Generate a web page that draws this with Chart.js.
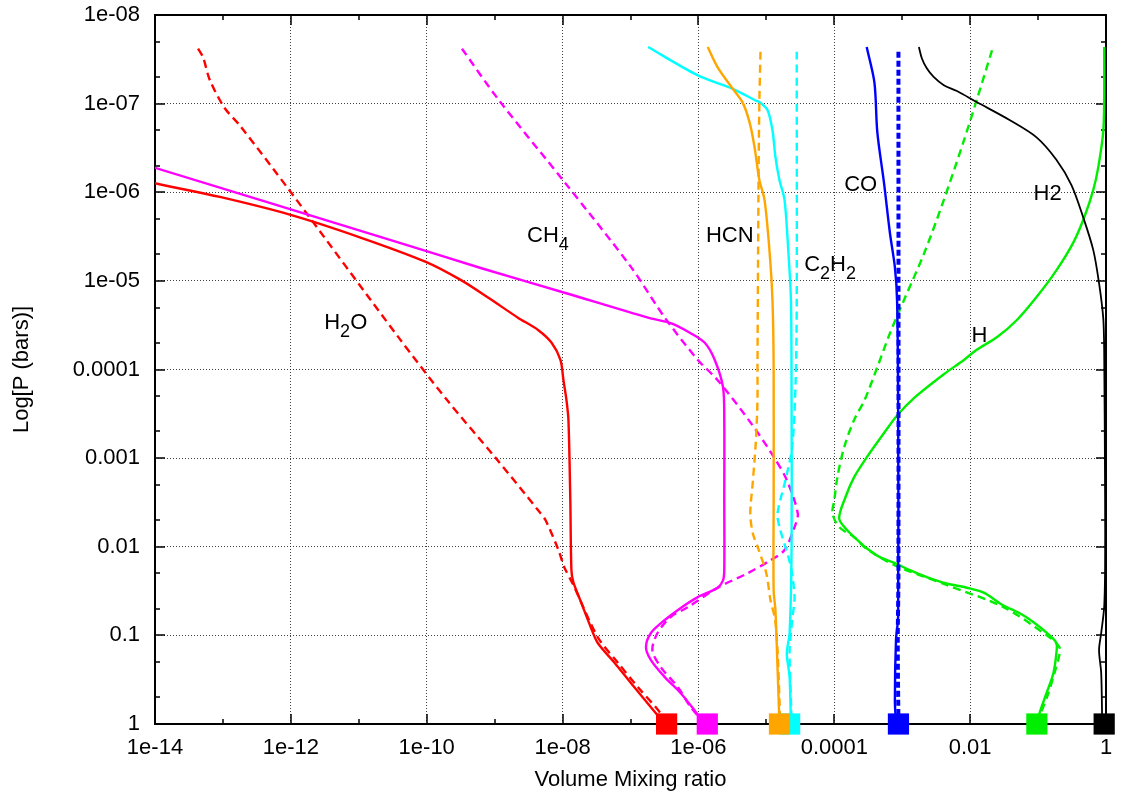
<!DOCTYPE html>
<html>
<head>
<meta charset="utf-8">
<script src="https://cdn.jsdelivr.net/npm/chart.js@4.4.0/dist/chart.umd.min.js"></script>
<style>
  body { margin: 0; background: #fff; }
</style>
</head>
<body>
<canvas id="chart" width="1121" height="800"></canvas>
<script>
// axis ticks
const xTickValues = [1e-14, 1e-12, 1e-10, 1e-8, 1e-6, 1e-4, 1e-2, 1];
const xTickLabels = ['1e-14', '1e-12', '1e-10', '1e-08', '1e-06', '0.0001', '0.01', '1'];
const yTickValues = [1e-8, 1e-7, 1e-6, 1e-5, 1e-4, 1e-3, 1e-2, 1e-1, 1];
const yTickLabels = ['1e-08', '1e-07', '1e-06', '1e-05', '0.0001', '0.001', '0.01', '0.1', '1'];

// H2O (solid / dashed)
const h2oX = [5e-15, 1e-14, 9.0e-14, 1.02e-12, 1.01e-11, 9.7e-11, 3.2e-10, 8.2e-10, 2.2e-9, 4.4e-9, 6.9e-9, 9.3e-9, 1.03e-8, 1.14e-8, 1.22e-8, 1.30e-8, 1.35e-8, 1.44e-8, 1.82e-8, 2.6e-8, 3.3e-8, 5.9e-8, 1.02e-7, 2.5e-7, 3.2e-7];
const h2oY = [6.8e-7, 7.9e-7, 1.13e-6, 1.81e-6, 3.2e-6, 6.1e-6, 9.8e-6, 1.56e-5, 2.6e-5, 3.6e-5, 5.0e-5, 7.8e-5, 1.32e-4, 2.2e-4, 3.7e-4, 3.0e-3, 1.84e-2, 2.5e-2, 4.0e-2, 8.1e-2, 0.122, 0.206, 0.347, 0.796, 1];
const h2oDashX = [4.3e-14, 5.1e-14, 6.4e-14, 1.06e-13, 1.76e-13, 1e-12, 3.9e-11, 1.98e-10, 1.04e-9, 4.4e-9, 5.6e-9, 8.7e-9, 1.06e-8, 1.44e-8, 3.3e-8, 6.6e-8, 1.29e-7, 2.7e-7, 3.4e-7];
const h2oDashY = [2.4e-8, 3.0e-8, 5.4e-8, 1.12e-7, 1.75e-7, 1e-6, 4.4e-5, 2.2e-4, 1e-3, 3.9e-3, 5.0e-3, 1.09e-2, 1.70e-2, 2.7e-2, 0.105, 0.206, 0.385, 0.736, 1];

// CH4
const ch4X = [5e-15, 1e-14, 3.9e-11, 6.4e-10, 1.10e-8, 1.81e-7, 3.9e-7, 7.7e-7, 1.24e-6, 1.74e-6, 2.3e-6, 2.4e-6, 2.4e-6, 2.4e-6, 2.3e-6, 1.92e-6, 9.8e-7, 5.5e-7, 3.2e-7, 2.0e-7, 1.69e-7, 2.0e-7, 3.2e-7, 5.5e-7, 9.2e-7, 1.26e-6];
const ch4Y = [4.5e-7, 5.3e-7, 3.7e-6, 7.2e-6, 1.37e-5, 2.6e-5, 3.0e-5, 3.9e-5, 5.0e-5, 7.8e-5, 1.58e-4, 3.7e-4, 3.0e-3, 1.84e-2, 2.4e-2, 2.9e-2, 3.7e-2, 4.9e-2, 6.7e-2, 9.4e-2, 0.136, 0.19, 0.296, 0.449, 0.736, 1];
const ch4DashX = [3.3e-10, 1.15e-9, 1.10e-8, 1.02e-7, 3.2e-7, 9.8e-7, 1.92e-6, 5.9e-6, 1.32e-5, 2.0e-5, 2.9e-5, 2.6e-5, 1.85e-5, 1.15e-5, 5.3e-6, 1.92e-6, 7.0e-7, 3.9e-7, 2.5e-7, 2.1e-7, 2.8e-7, 5.0e-7, 7.7e-7, 1.26e-6];
const ch4DashY = [2.4e-8, 9.1e-8, 7.9e-7, 7.0e-6, 2.6e-5, 7.8e-5, 1.32e-4, 4.0e-4, 1.0e-3, 1.77e-3, 4.2e-3, 6.0e-3, 1.09e-2, 1.42e-2, 1.99e-2, 2.9e-2, 4.8e-2, 6.2e-2, 9.4e-2, 0.147, 0.229, 0.385, 0.646, 1];

// HCN
const hcnX = [1.37e-6, 1.92e-6, 3.2e-6, 4.5e-6, 5.7e-6, 6.7e-6, 7.9e-6, 9.4e-6, 1.11e-5, 1.23e-5, 1.28e-5, 1.28e-5, 1.28e-5, 1.36e-5, 1.46e-5, 1.56e-5];
const hcnY = [2.3e-8, 3.9e-8, 6.8e-8, 9.8e-8, 1.66e-7, 3.1e-7, 7.3e-7, 1.22e-6, 4.5e-6, 1.65e-5, 9.4e-5, 3.0e-3, 3.1e-2, 5.2e-2, 0.229, 1];
const hcnDashX = [8.2e-6, 7.9e-6, 7.7e-6, 7.4e-6, 7.4e-6, 7.0e-6, 6.3e-6, 5.8e-6, 6.3e-6, 7.6e-6, 1.0e-5, 1.15e-5, 1.34e-5, 1.46e-5, 1.56e-5, 1.6e-5];
const hcnDashY = [2.6e-8, 9.1e-8, 5.2e-7, 9.4e-5, 2.2e-4, 6.5e-4, 1.91e-3, 4.2e-3, 7.0e-3, 1.05e-2, 2.0e-2, 4.0e-2, 6.5e-2, 0.147, 0.538, 1];

// C2H2
const c2h2X = [1.81e-7, 9.8e-7, 3.2e-6, 6.7e-6, 8.2e-6, 1.04e-5, 1.23e-5, 1.36e-5, 1.56e-5, 1.85e-5, 2.1e-5, 2.3e-5, 2.35e-5, 2.35e-5, 2.2e-5, 2.0e-5, 2.2e-5, 2.3e-5];
const c2h2Y = [2.3e-8, 4.8e-8, 6.8e-8, 9.1e-8, 9.8e-8, 1.18e-7, 2.0e-7, 4.0e-7, 7.3e-7, 1.22e-6, 4.5e-6, 1.65e-5, 2.2e-4, 1.09e-2, 9.4e-2, 0.159, 0.296, 1];
const c2h2DashX = [2.8e-5, 2.8e-5, 2.7e-5, 2.4e-5, 1.91e-5, 1.46e-5, 1.56e-5, 1.91e-5, 2.3e-5, 2.6e-5, 2.4e-5, 2.2e-5, 2.3e-5, 2.35e-5];
const c2h2DashY = [2.6e-8, 1.65e-5, 1.32e-4, 7.5e-4, 1.77e-3, 4.2e-3, 6.0e-3, 1.01e-2, 1.70e-2, 3.7e-2, 6.7e-2, 0.147, 0.538, 1];

// CO
const coX = [3.0e-4, 3.9e-4, 4.3e-4, 5.4e-4, 6.6e-4, 7.8e-4, 8.4e-4, 8.7e-4, 8.7e-4, 8.1e-4, 7.8e-4, 8.1e-4];
const coY = [2.3e-8, 5.8e-8, 2.1e-7, 7.9e-7, 2.9e-6, 7.0e-6, 1.65e-5, 2.2e-4, 6.2e-2, 0.113, 0.538, 1];
const coDashX = [8.8e-4, 8.8e-4, 8.6e-4, 8.8e-4];
const coDashY = [2.6e-8, 2.0e-2, 0.12, 1];

// H2
const h2X = [1.76e-3, 1.95e-3, 2.3e-3, 2.9e-3, 4.1e-3, 6.4e-3, 1.25e-2, 3.8e-2, 9.5e-2, 0.186, 0.31, 0.46, 0.65, 0.79, 0.91, 0.94, 0.97, 0.97, 0.94, 0.85, 0.79, 0.85, 0.88];
const h2Y = [2.3e-8, 3.1e-8, 4.0e-8, 5.0e-8, 6.2e-8, 7.2e-8, 9.6e-8, 1.53e-7, 2.4e-7, 4.3e-7, 8.3e-7, 1.9e-6, 4.5e-6, 1.06e-5, 2.6e-5, 6.0e-5, 3.0e-3, 1.7e-2, 4.8e-2, 9.4e-2, 0.147, 0.267, 1];

// H
const hX = [0.94, 0.94, 0.91, 0.77, 0.65, 0.48, 0.33, 0.186, 9.5e-2, 4.8e-2, 2.5e-2, 1.25e-2, 8.1e-3, 4.1e-3, 1.49e-3, 8.4e-4, 5.4e-4, 3.0e-4, 1.96e-4, 1.45e-4, 1.18e-4, 1.55e-4, 2.2e-4, 3.0e-4, 4.7e-4, 7.8e-4, 1.30e-3, 2.3e-3, 4.5e-3, 8.9e-3, 1.58e-2, 3.1e-2, 5.3e-2, 8.6e-2, 0.147, 0.186, 0.186, 0.168, 0.133, 0.105, 9.5e-2];
const hY = [2.3e-8, 9.1e-8, 2.1e-7, 5.2e-7, 9.4e-7, 1.9e-6, 3.7e-6, 7.6e-6, 1.52e-5, 2.8e-5, 4.3e-5, 6.0e-5, 7.8e-5, 1.13e-4, 2.1e-4, 3.3e-4, 5.2e-4, 9.8e-4, 1.64e-3, 2.8e-3, 4.8e-3, 6.5e-3, 8.4e-3, 1.04e-2, 1.31e-2, 1.53e-2, 1.84e-2, 2.2e-2, 2.6e-2, 2.9e-2, 3.3e-2, 4.6e-2, 5.6e-2, 7.1e-2, 0.0995, 0.122, 0.159, 0.267, 0.449, 0.755, 1];
const hDashX = [2.1e-2, 1.25e-2, 8.1e-3, 4.1e-3, 2.1e-3, 1.06e-3, 6.6e-4, 4.3e-4, 2.8e-4, 1.96e-4, 1.40e-4, 1.11e-4, 1.0e-4, 9.4e-5, 1.18e-4, 1.96e-4, 3.0e-4, 7.8e-4, 4.5e-3, 3.1e-2, 0.147, 0.206, 0.206, 0.174, 0.142, 0.112, 0.101];
const hDashY = [2.5e-8, 9.1e-8, 2.6e-7, 1.22e-6, 4.9e-6, 1.65e-5, 3.9e-5, 9.4e-5, 2.2e-4, 3.7e-4, 7.5e-4, 1.64e-3, 3.0e-3, 4.2e-3, 6.0e-3, 7.8e-3, 1.06e-2, 1.62e-2, 2.7e-2, 4.8e-2, 0.105, 0.136, 0.166, 0.267, 0.449, 0.736, 1];

// square markers at the bottom (red, magenta, cyan, orange, blue, green, black)
const markerX = [3.4e-7, 1.35e-6, 2.2e-5, 1.56e-5, 8.8e-4, 0.096, 0.94];
const markerY = [1, 1, 1, 1, 1, 1, 1];

const FONT = '"Liberation Sans", Arial, sans-serif';

// species names, '_' marks a subscript character
const speciesNotes = [
    { text: 'H_2O', x: 3.1e-12, y: 3.5e-5 },
    { text: 'CH_4', x: 3.0e-9, y: 3.6e-6 },
    { text: 'HCN', x: 1.29e-6, y: 3.65e-6 },
    { text: 'C_2H_2', x: 3.6e-5, y: 7.7e-6 },
    { text: 'CO', x: 1.40e-4, y: 9.7e-7 },
    { text: 'H2', x: 8.6e-2, y: 1.22e-6 },
    { text: 'H', x: 1.05e-2, y: 4.9e-5 }
];

function pts(xs, ys) {
    return xs.map((x, i) => ({ x, y: ys[i] }));
}

function line(xs, ys, color, dashed, width) {
    return {
        data: pts(xs, ys),
        borderColor: color,
        borderWidth: width || 2.4,
        borderDash: dashed ? [8, 5] : [],
        pointRadius: 0,
        tension: 0.3,
        fill: false
    };
}

const frame = {
    id: 'frame',
    beforeDatasetsDraw(chart) {
        const { ctx, chartArea: a, scales: { x, y } } = chart;
        ctx.save();
        ctx.strokeStyle = '#000';
        ctx.lineWidth = 1.5;
        ctx.beginPath();
        for (let e = -14; e <= 0; e++) {
            const px = Math.round(x.getPixelForValue(Math.pow(10, e)));
            const len = e % 2 === 0 ? 10 : 5;
            ctx.moveTo(px, a.bottom); ctx.lineTo(px, a.bottom - len);
            ctx.moveTo(px, a.top); ctx.lineTo(px, a.top + len);
        }
        for (let e = -8; e <= 0; e++) {
            [1, 2, 5].forEach(m => {
                const v = m * Math.pow(10, e);
                if (v > 1) return;
                const py = Math.round(y.getPixelForValue(v));
                const len = m === 1 ? 10 : 5;
                ctx.moveTo(a.left, py); ctx.lineTo(a.left + len, py);
                ctx.moveTo(a.right, py); ctx.lineTo(a.right - len, py);
            });
        }
        ctx.stroke();
        ctx.lineWidth = 2;
        ctx.strokeRect(a.left, a.top, a.right - a.left, a.bottom - a.top);
        ctx.restore();
    },
    afterDraw(chart) {
        const { ctx, scales: { x, y } } = chart;
        ctx.save();
        ctx.fillStyle = '#000';
        ctx.textBaseline = 'alphabetic';
        ctx.textAlign = 'left';
        speciesNotes.forEach(n => {
            let cx = x.getPixelForValue(n.x);
            const cy = y.getPixelForValue(n.y);
            for (let i = 0; i < n.text.length; i++) {
                let ch = n.text[i];
                let sub = false;
                if (ch === '_') { i++; ch = n.text[i]; sub = true; }
                ctx.font = (sub ? '18px ' : '22px ') + FONT;
                ctx.fillText(ch, cx, sub ? cy + 8 : cy);
                cx += ctx.measureText(ch).width;
            }
        });
        ctx.restore();
    }
};

const datasets = [
    {
        data: pts(markerX, markerY),
        showLine: false,
        pointStyle: 'rect',
        pointRadius: 15,
        pointBorderWidth: 0,
        pointBackgroundColor: ['#ff0000', '#ff00ff', '#00ffff', '#ffa500', '#0000ff', '#00ee00', '#000000'],
        clip: false
    },
    line(coDashX, coDashY, '#0000ff', true, 4),
    line(coX, coY, '#0000ff', false),
    line(h2X, h2Y, '#000000', false, 1.8),
    line(hX, hY, '#00ee00', false),
    line(hDashX, hDashY, '#00ee00', true),
    line(hcnX, hcnY, '#ffa500', false),
    line(hcnDashX, hcnDashY, '#ffa500', true),
    line(c2h2X, c2h2Y, '#00ffff', false),
    line(c2h2DashX, c2h2DashY, '#00ffff', true),
    line(ch4X, ch4Y, '#ff00ff', false),
    line(ch4DashX, ch4DashY, '#ff00ff', true),
    line(h2oX, h2oY, '#ff0000', false),
    line(h2oDashX, h2oDashY, '#ff0000', true)
];
datasets[1].borderDash = [6, 3];

const gridStyle = { color: 'rgba(0,0,0,0.75)', lineWidth: 1, drawTicks: false };

new Chart(document.getElementById('chart'), {
    type: 'line',
    data: { datasets },
    options: {
        responsive: false,
        animation: false,
        layout: { padding: { left: 0, right: 11, top: 15, bottom: 0 } },
        plugins: { legend: { display: false }, tooltip: { enabled: false } },
        scales: {
            x: {
                type: 'logarithmic',
                min: 1e-14,
                max: 1,
                afterBuildTicks: s => { s.ticks = xTickValues.map(v => ({ value: v })); },
                afterFit: s => { s.height = 76; s.paddingLeft = 0; s.paddingRight = 0; },
                grid: gridStyle,
                border: { display: false, dash: [1, 2] },
                ticks: {
                    color: '#000',
                    padding: 11,
                    maxRotation: 0,
                    autoSkip: false,
                    font: { family: FONT, size: 22 },
                    callback: (v, i) => xTickLabels[i]
                },
                title: {
                    display: true,
                    text: 'Volume Mixing ratio',
                    color: '#000',
                    font: { family: FONT, size: 22 },
                    padding: { top: 0, bottom: 7 }
                }
            },
            y: {
                type: 'logarithmic',
                reverse: true,
                min: 1e-8,
                max: 1,
                afterBuildTicks: s => { s.ticks = yTickValues.map(v => ({ value: v })); },
                afterFit: s => { s.width = 155; s.paddingTop = 0; s.paddingBottom = 0; },
                grid: gridStyle,
                border: { display: false, dash: [1, 2] },
                ticks: {
                    color: '#000',
                    padding: 15,
                    autoSkip: false,
                    font: { family: FONT, size: 22 },
                    callback: (v, i) => yTickLabels[i]
                },
                title: {
                    display: true,
                    text: 'Log[P (bars)]',
                    color: '#000',
                    font: { family: FONT, size: 22 },
                    padding: { top: 9, bottom: 0 }
                }
            }
        }
    },
    plugins: [frame]
});
</script>
</body>
</html>
